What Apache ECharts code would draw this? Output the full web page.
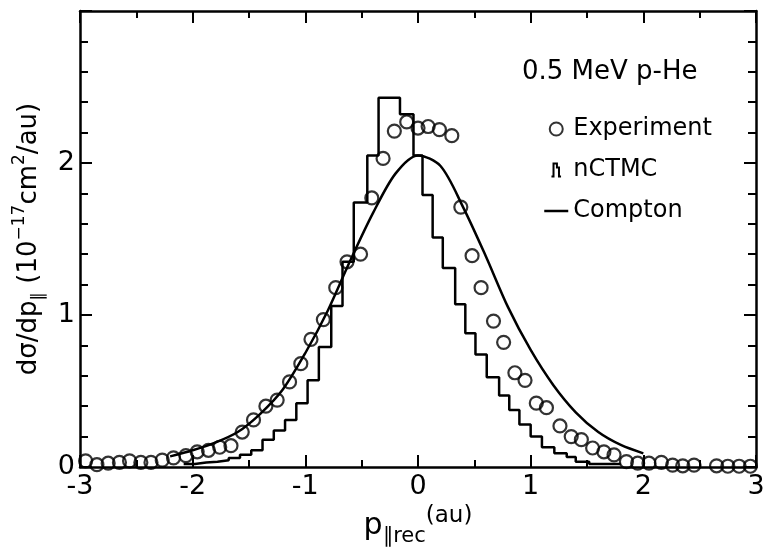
<!DOCTYPE html>
<html>
<head>
<meta charset="utf-8">
<script src="https://cdn.jsdelivr.net/npm/echarts@6/dist/echarts.min.js"></script>
<style>
  html, body { margin: 0; padding: 0; background: #fff; }
  #chart { width: 767px; height: 551px; }
</style>
</head>
<body>
<div id="chart"></div>
<script>
// Experiment (open circles)
var expX = [-2.95, -2.85, -2.75, -2.65, -2.56, -2.46, -2.37, -2.27, -2.17, -2.06,
  -1.96, -1.86, -1.76, -1.66, -1.56, -1.46, -1.35, -1.25, -1.14, -1.04,
  -0.95, -0.84, -0.73, -0.63, -0.51, -0.41, -0.31, -0.21, -0.10, 0.0,
  0.09, 0.19, 0.30, 0.38, 0.48, 0.56, 0.67, 0.76, 0.86, 0.95,
  1.05, 1.14, 1.26, 1.36, 1.45, 1.55, 1.65, 1.74, 1.85, 1.95,
  2.05, 2.16, 2.26, 2.35, 2.45, 2.65, 2.75, 2.85, 2.95];
var expY = [0.04, 0.015, 0.025, 0.03, 0.04, 0.03, 0.03, 0.045, 0.06, 0.075,
  0.10, 0.11, 0.13, 0.14, 0.23, 0.31, 0.40, 0.44, 0.56, 0.68,
  0.84, 0.97, 1.18, 1.35, 1.40, 1.77, 2.03, 2.21, 2.27, 2.23,
  2.24, 2.22, 2.18, 1.71, 1.39, 1.18, 0.96, 0.82, 0.62, 0.57,
  0.42, 0.39, 0.27, 0.20, 0.18, 0.125, 0.10, 0.08, 0.035, 0.025,
  0.025, 0.03, 0.012, 0.008, 0.012, 0.008, 0.005, 0.005, 0.005];

// nCTMC histogram: bin edges and heights
var histEdges = [-2.08, -1.98, -1.88, -1.78, -1.68, -1.58, -1.48, -1.38, -1.28, -1.18,
  -1.08, -0.98, -0.88, -0.77, -0.67, -0.57, -0.45, -0.35, -0.16, -0.04,
  0.04, 0.13, 0.22, 0.33, 0.42, 0.51, 0.61, 0.72, 0.81, 0.90,
  1.00, 1.10, 1.21, 1.32, 1.40, 1.52, 1.80];
var histHeights = [0.02, 0.03, 0.035, 0.045, 0.06, 0.08, 0.11, 0.18, 0.24, 0.31,
  0.42, 0.57, 0.79, 1.06, 1.35, 1.74, 2.05, 2.43, 2.32, 2.05,
  1.79, 1.51, 1.31, 1.07, 0.88, 0.74, 0.59, 0.47, 0.375, 0.28,
  0.20, 0.13, 0.09, 0.065, 0.035, 0.02];

// Compton profile
var comptonX = [-2.2, -2.0, -1.8, -1.6, -1.4, -1.2, -1.0, -0.8, -0.6, -0.4, -0.2, 0.0,
  0.2, 0.4, 0.6, 0.8, 1.0, 1.2, 1.4, 1.6, 1.8, 2.0];
var comptonY = [0.07, 0.11, 0.16, 0.23, 0.35, 0.51, 0.75, 1.03, 1.36, 1.67, 1.93, 2.05,
  1.98, 1.71, 1.39, 1.05, 0.77, 0.54, 0.36, 0.23, 0.145, 0.09];

var xTicks = [-3, -2, -1, 0, 1, 2, 3];
var yTicks = [0, 1, 2];

var FONT = 'DejaVu Sans';

var expData = expX.map(function (x, i) { return [x, expY[i]]; });
var histData = histHeights.map(function (h, i) { return [histEdges[i], h]; });
histData.push([histEdges[histEdges.length - 1], histHeights[histHeights.length - 1]]);
var comptonData = comptonX.map(function (x, i) { return [x, comptonY[i]]; });

var chart = echarts.init(document.getElementById('chart'));

var axisLine = { show: true, onZero: false, lineStyle: { color: '#000', width: 2.5 } };
var tick = { inside: true, length: 12, lineStyle: { color: '#000', width: 2 } };

var option = {
  animation: false,
  backgroundColor: '#fff',
  title: {
    text: '0.5 MeV p-He',
    left: 522,
    top: 59,
    padding: 0,
    textStyle: { fontFamily: FONT, fontSize: 26, fontWeight: 'normal', color: '#000' }
  },
  legend: {
    orient: 'vertical',
    left: 538,
    top: 112,
    itemWidth: 24,
    itemHeight: 13,
    itemGap: 17,
    textStyle: { fontFamily: FONT, fontSize: 24, color: '#000' },
    data: [
      { name: 'Experiment', icon: 'circle',
        itemStyle: { color: 'rgba(0,0,0,0)', borderColor: '#000', borderWidth: 2 } },
      { name: 'nCTMC', icon: 'path://M0,20 L3,20 L3,1 L8,1 L8,7 L11,7 L11,20 L14,20',
        itemStyle: { color: 'rgba(0,0,0,0)', borderColor: '#000', borderWidth: 2 } },
      { name: 'Compton',
        itemStyle: { color: 'rgba(0,0,0,0)', borderColor: 'rgba(0,0,0,0)', borderWidth: 0 },
        lineStyle: { color: '#000', width: 2.5 } }
    ]
  },
  grid: { left: 80, right: 11, top: 11, bottom: 84, containLabel: false, outerBoundsMode: 'none' },
  xAxis: [
    {
      type: 'value', min: -3, max: 3, interval: 1, position: 'bottom',
      axisLine: axisLine,
      axisTick: tick,
      minorTick: { show: true, splitNumber: 2, length: 7, lineStyle: { color: '#000', width: 2 } },
      splitLine: { show: false },
      axisLabel: {
        fontFamily: FONT, fontSize: 27, color: '#000', margin: 6,
        formatter: function (v) { return xTicks.indexOf(v) >= 0 ? String(v) : ''; }
      },
      name: '{p|p}{s|\u2225rec}{a|(au)}',
      nameLocation: 'middle',
      nameGap: 37,
      nameTextStyle: {
        fontFamily: FONT, color: '#000',
        rich: {
          p: { fontFamily: FONT, fontSize: 30, color: '#000', lineHeight: 42, verticalAlign: 'middle' },
          s: { fontFamily: FONT, fontSize: 21, color: '#000', lineHeight: 42, verticalAlign: 'bottom' },
          a: { fontFamily: FONT, fontSize: 23, color: '#000', lineHeight: 42, verticalAlign: 'top' }
        }
      }
    },
    {
      type: 'value', min: -3, max: 3, interval: 1, position: 'top',
      axisLine: axisLine,
      axisTick: tick,
      minorTick: { show: true, splitNumber: 2, length: 7, lineStyle: { color: '#000', width: 2 } },
      splitLine: { show: false },
      axisLabel: { show: false }
    }
  ],
  yAxis: [
    {
      type: 'value', min: 0, max: 3, interval: 1, position: 'left',
      axisLine: axisLine,
      axisTick: tick,
      minorTick: { show: true, splitNumber: 5, length: 8, lineStyle: { color: '#000', width: 2 } },
      splitLine: { show: false },
      axisLabel: {
        fontFamily: FONT, fontSize: 27, color: '#000', margin: 5,
        formatter: function (v) { return yTicks.indexOf(v) >= 0 ? String(v) : ''; }
      },
      name: '{t|d\u03c3/dp}{s|\u2225}{t| (10}{u|\u221217}{t|cm}{u|2}{t|/au)}',
      nameLocation: 'middle',
      nameRotate: 90,
      nameGap: 33,
      nameTextStyle: {
        fontFamily: FONT, color: '#000',
        rich: {
          t: { fontFamily: FONT, fontSize: 26, color: '#000', lineHeight: 36, verticalAlign: 'middle' },
          s: { fontFamily: FONT, fontSize: 17, color: '#000', lineHeight: 36, verticalAlign: 'bottom' },
          u: { fontFamily: FONT, fontSize: 17, color: '#000', lineHeight: 36, verticalAlign: 'top' }
        }
      }
    },
    {
      type: 'value', min: 0, max: 3, interval: 1, position: 'right',
      axisLine: axisLine,
      axisTick: tick,
      minorTick: { show: true, splitNumber: 5, length: 8, lineStyle: { color: '#000', width: 2 } },
      splitLine: { show: false },
      axisLabel: { show: false }
    }
  ],
  series: [
    {
      name: 'nCTMC',
      type: 'line',
      step: 'end',
      symbol: 'none',
      data: histData,
      lineStyle: { color: '#000', width: 2.5 },
      itemStyle: { color: '#000' }
    },
    {
      name: 'Compton',
      type: 'line',
      smooth: 0.3,
      symbol: 'none',
      data: comptonData,
      lineStyle: { color: '#000', width: 2.5 },
      itemStyle: { color: '#000' }
    },
    {
      name: 'Experiment',
      type: 'scatter',
      symbol: 'circle',
      symbolSize: 13,
      data: expData,
      z: 5,
      itemStyle: { color: 'rgba(0,0,0,0)', borderColor: '#000', borderWidth: 2.2 }
    }
  ]
};

chart.setOption(option);
</script>
</body>
</html>
